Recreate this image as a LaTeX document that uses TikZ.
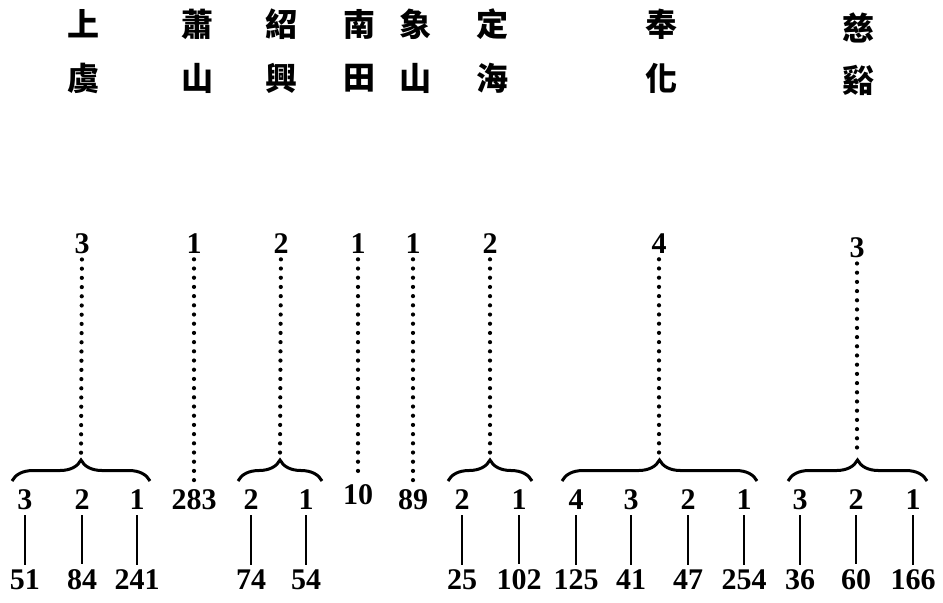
\documentclass[tikz,border=0pt]{standalone}
\usepackage{fontspec}
\setmainfont{Liberation Serif}
\newfontfamily\cjk{Noto Sans CJK TC}
\usetikzlibrary{decorations.pathreplacing}

\begin{document}
\begin{tikzpicture}[
  x=0.5pt, y=-0.5pt,
  place/.style={font=\cjk\bfseries\fontsize{16}{18}\selectfont, inner sep=0pt},
  num/.style={font=\bfseries\fontsize{15}{17}\selectfont, inner sep=2.5pt},
  dotline/.style={line width=2.1pt, line cap=round, dash pattern=on 0pt off 4.6pt},
  brc/.style={line width=1.5pt, decorate, decoration={brace, amplitude=10.5pt}},
  stem/.style={line width=1.4pt},
]
\useasboundingbox (0,0) rectangle (943,602);

% ---- 上虞 --------------------------------------------------------------
\node[place] (shangyu-a) at (83,24) {上};
\node[place] (shangyu-b) at (83,78) {虞};
\node[num]   (shangyu)   at (82,244) {3};
\coordinate (shangyu-l)   at (12,481);
\coordinate (shangyu-r)   at (150,481);
\coordinate (shangyu-tip) at (81,455);
\draw[dotline] (shangyu) -- (shangyu-tip);
\draw[brc] (shangyu-l) -- (shangyu-r);
\foreach \x/\k/\n [count=\i] in {25/3/51, 82/2/84, 137/1/241}{
  \node[num] (shangyu-k\i) at (\x,500) {\k};
  \node[num] (shangyu-n\i) at (\x,580) {\n};
  \draw[stem] (shangyu-k\i) -- (shangyu-n\i);
}

% ---- 蕭山 --------------------------------------------------------------
\node[place] (xiaoshan-a) at (197,24) {蕭};
\node[place] (xiaoshan-b) at (197,78) {山};
\node[num]   (xiaoshan)   at (194,244) {1};
\node[num]   (xiaoshan-k) at (194,500) {283};
\draw[dotline] (xiaoshan) -- (xiaoshan-k);

% ---- 紹興 --------------------------------------------------------------
\node[place] (shaoxing-a) at (281,24) {紹};
\node[place] (shaoxing-b) at (281,78) {興};
\node[num]   (shaoxing)   at (281,244) {2};
\coordinate (shaoxing-l)   at (238,481);
\coordinate (shaoxing-r)   at (322,481);
\coordinate (shaoxing-tip) at (280,455);
\draw[dotline] (shaoxing) -- (shaoxing-tip);
\draw[brc] (shaoxing-l) -- (shaoxing-r);
\foreach \x/\k/\n [count=\i] in {251/2/74, 306/1/54}{
  \node[num] (shaoxing-k\i) at (\x,500) {\k};
  \node[num] (shaoxing-n\i) at (\x,580) {\n};
  \draw[stem] (shaoxing-k\i) -- (shaoxing-n\i);
}

% ---- 南田 --------------------------------------------------------------
\node[place] (nantian-a) at (359,24) {南};
\node[place] (nantian-b) at (359,78) {田};
\node[num]   (nantian)   at (358,244) {1};
\node[num]   (nantian-k) at (358,495) {10};
\draw[dotline] (nantian) -- (nantian-k);

% ---- 象山 --------------------------------------------------------------
\node[place] (xiangshan-a) at (415,24) {象};
\node[place] (xiangshan-b) at (415,78) {山};
\node[num]   (xiangshan)   at (413,244) {1};
\node[num]   (xiangshan-k) at (413,500) {89};
\draw[dotline] (xiangshan) -- (xiangshan-k);

% ---- 定海 --------------------------------------------------------------
\node[place] (dinghai-a) at (492,24) {定};
\node[place] (dinghai-b) at (492,78) {海};
\node[num]   (dinghai)   at (490,244) {2};
\coordinate (dinghai-l)   at (448,481);
\coordinate (dinghai-r)   at (532,481);
\coordinate (dinghai-tip) at (490,455);
\draw[dotline] (dinghai) -- (dinghai-tip);
\draw[brc] (dinghai-l) -- (dinghai-r);
\foreach \x/\k/\n [count=\i] in {462/2/25, 519/1/102}{
  \node[num] (dinghai-k\i) at (\x,500) {\k};
  \node[num] (dinghai-n\i) at (\x,580) {\n};
  \draw[stem] (dinghai-k\i) -- (dinghai-n\i);
}

% ---- 奉化 --------------------------------------------------------------
\node[place] (fenghua-a) at (661,24) {奉};
\node[place] (fenghua-b) at (661,78) {化};
\node[num]   (fenghua)   at (659,244) {4};
\coordinate (fenghua-l)   at (562,481);
\coordinate (fenghua-r)   at (757,481);
\coordinate (fenghua-tip) at (659,455);
\draw[dotline] (fenghua) -- (fenghua-tip);
\draw[brc] (fenghua-l) -- (fenghua-r);
\foreach \x/\k/\n [count=\i] in {576/4/125, 631/3/41, 688/2/47, 744/1/254}{
  \node[num] (fenghua-k\i) at (\x,500) {\k};
  \node[num] (fenghua-n\i) at (\x,580) {\n};
  \draw[stem] (fenghua-k\i) -- (fenghua-n\i);
}

% ---- 慈谿 --------------------------------------------------------------
\node[place] (cixi-a) at (858,28) {慈};
\node[place] (cixi-b) at (858,80) {谿};
\node[num]   (cixi)   at (857,248) {3};
\coordinate (cixi-l)   at (788,481);
\coordinate (cixi-r)   at (927,481);
\coordinate (cixi-tip) at (857,455);
\draw[dotline] (cixi) -- (cixi-tip);
\draw[brc] (cixi-l) -- (cixi-r);
\foreach \x/\k/\n [count=\i] in {800/3/36, 856/2/60, 913/1/166}{
  \node[num] (cixi-k\i) at (\x,500) {\k};
  \node[num] (cixi-n\i) at (\x,580) {\n};
  \draw[stem] (cixi-k\i) -- (cixi-n\i);
}

\end{tikzpicture}
\end{document}
